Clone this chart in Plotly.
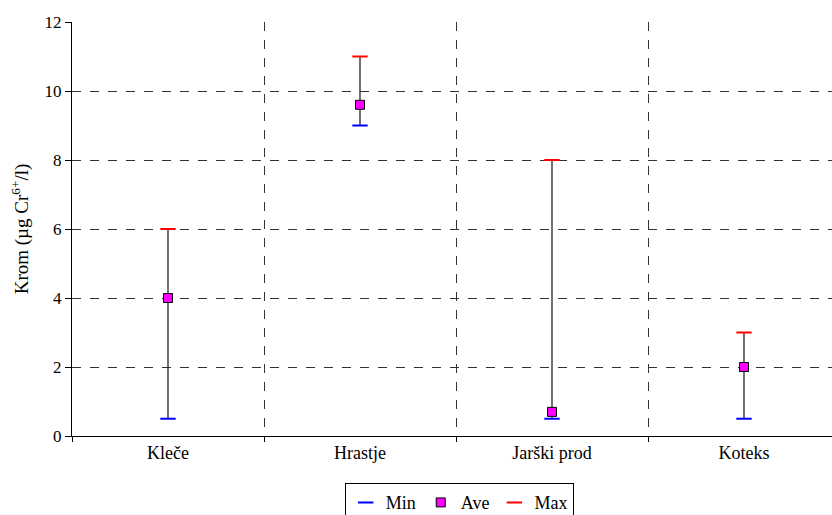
import plotly.graph_objects as go

# Hexavalent chromium at four sampling sites (µg Cr6+/l)
sites = ["Kleče", "Hrastje", "Jarški prod", "Koteks"]
min_vals = [0.5, 9.0, 0.5, 0.5]
ave_vals = [4.0, 9.6, 0.7, 2.0]
max_vals = [6.0, 11.0, 8.0, 3.0]

fig = go.Figure()

# high-low connecting lines
xs, ys = [], []
for s, lo, hi in zip(sites, min_vals, max_vals):
    xs += [s, s, None]
    ys += [lo, hi, None]
fig.add_trace(go.Scatter(x=xs, y=ys, mode="lines", line=dict(color="#111111", width=1.2),
                         showlegend=False, hoverinfo="skip"))

fig.add_trace(go.Scatter(x=sites, y=min_vals, mode="markers", name="Min",
                         marker=dict(symbol="line-ew", size=11, line=dict(color="#0000ff", width=2))))
fig.add_trace(go.Scatter(x=sites, y=ave_vals, mode="markers", name="Ave",
                         marker=dict(symbol="square", size=9, color="#ff00ff",
                                     line=dict(color="black", width=1))))
fig.add_trace(go.Scatter(x=sites, y=max_vals, mode="markers", name="Max",
                         marker=dict(symbol="line-ew", size=11, line=dict(color="#ff0000", width=2))))

font_family = "Times New Roman, Liberation Serif, serif"

fig.update_layout(
    width=832, height=515,
    margin=dict(l=72, r=0, t=22, b=79, autoexpand=False),
    paper_bgcolor="white", plot_bgcolor="white",
    font=dict(family=font_family, size=17, color="black"),
    showlegend=True,
    legend=dict(orientation="h", x=0.5095, xanchor="center", y=-0.114, yanchor="top",
                bordercolor="black", borderwidth=1, bgcolor="white",
                font=dict(family=font_family, size=18),
                itemwidth=30, tracegroupgap=0),
    xaxis=dict(type="category", categoryorder="array", categoryarray=sites,
               range=[-0.5, -0.5 + 760 / 192],
               tickson="boundaries", ticks="outside", ticklen=5, tickcolor="black",
               showgrid=True, gridcolor="#333333", griddash="dash", gridwidth=1,
               showline=True, linecolor="black", linewidth=1,
               tickfont=dict(family=font_family, size=18), zeroline=False, fixedrange=True),
    yaxis=dict(range=[0, 12], dtick=2, ticks="outside", ticklen=6, tickcolor="black",
               showgrid=True, gridcolor="#333333", griddash="dash", gridwidth=1,
               showline=True, linecolor="black", linewidth=1, zeroline=False,
               tickfont=dict(family=font_family, size=17),
               title=dict(text="Krom (µg Cr<sup>6+</sup>/l)",
                          font=dict(family=font_family, size=19), standoff=10)),
)

fig.write_html("out.html")
